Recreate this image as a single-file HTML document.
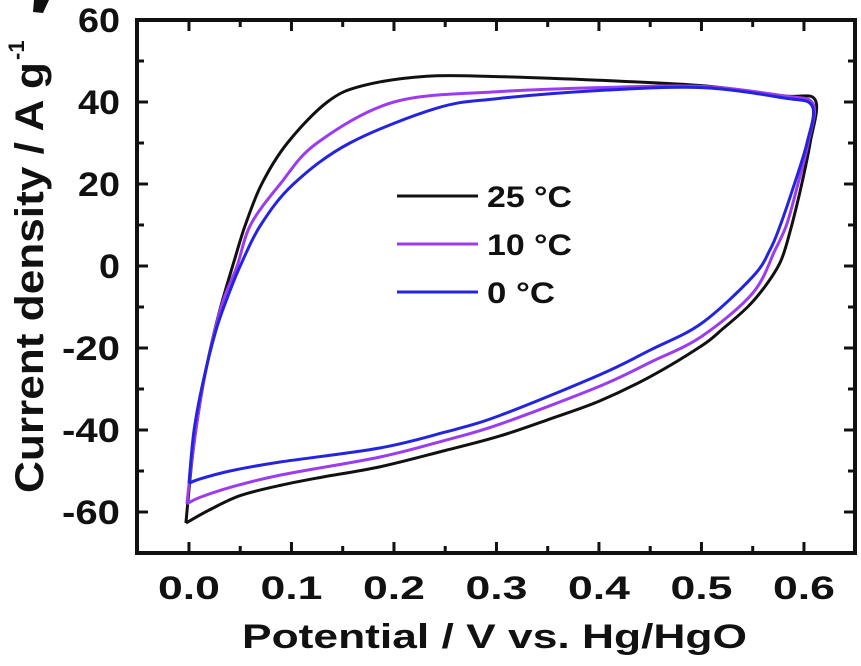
<!DOCTYPE html>
<html><head><meta charset="utf-8"><style>
body{margin:0;background:#fff;}
svg text{font-family:"Liberation Sans",Arial,sans-serif;font-weight:bold;fill:#111;}
</style></head><body>
<svg id="chart" width="861" height="661" viewBox="0 0 861 661" xmlns="http://www.w3.org/2000/svg">
<path d="M34 0 L49 0 L43 13 L33 12 Z" fill="#111"/>
<g id="plot"></g>
</svg>
<script>
const xTicks=[0.0,0.1,0.2,0.3,0.4,0.5,0.6];
const xTickLabels=["0.0","0.1","0.2","0.3","0.4","0.5","0.6"];
const yTicks=[60,40,20,0,-20,-40,-60];
const yTickLabels=["60","40","20","0","-20","-40","-60"];
const seriesNames=["25 °C","10 °C","0 °C"];
const seriesColors=["#111111","#9b3cf0","#2424e0"];
const s25x=[-0.003,0.004,0.013,0.022,0.032,0.045,0.055,0.071,0.096,0.135,0.17,0.232,0.3,0.4,0.5,0.58,0.611,0.606,0.596,0.586,0.577,0.562,0.545,0.52,0.5,0.45,0.4,0.35,0.303,0.25,0.186,0.13,0.089,0.05,0.02,-0.003];
const s25y=[-62.7,-45,-30,-19,-9,2,10,20,30,40,44,46.3,46.2,45.3,44,41.5,40.5,30,18,8,1,-5,-10,-15.5,-19.5,-27,-33,-37.5,-41.5,-45,-49,-51.5,-53.5,-56,-59.5,-62.7];
const s10x=[-0.002,0.004,0.013,0.024,0.034,0.047,0.06,0.089,0.125,0.2,0.3,0.4,0.5,0.58,0.609,0.604,0.592,0.583,0.572,0.55,0.5,0.45,0.4,0.303,0.25,0.186,0.089,0.04,0.01,-0.002];
const s10y=[-58,-45,-30,-17,-8,0,10,20,30,40,42.5,43.5,43.8,41.5,39.5,30,18,10,4,-6.6,-17.2,-23.5,-29.4,-38.6,-42.5,-46.6,-51,-54,-56.5,-58];
const s0x=[0,0.005,0.014,0.026,0.037,0.05,0.07,0.102,0.157,0.242,0.3,0.4,0.5,0.58,0.608,0.603,0.588,0.577,0.567,0.55,0.5,0.45,0.4,0.303,0.25,0.186,0.089,0.04,0.01,0];
const s0y=[-53,-40,-28,-16,-8,0,10,20,30,38.5,40.8,42.8,43.5,41,39,30,18,10,4,-2.6,-14,-20.5,-26.6,-36.5,-40.5,-44.4,-47.8,-50,-52,-53];
const seriesX=[s25x,s10x,s0x], seriesY=[s25y,s10y,s0y];

const L=137,R=855,T=20,B=553, xmin=-0.0507,xmax=0.6498,ymin=-70,ymax=60;
const sx=v=>L+(v-xmin)/(xmax-xmin)*(R-L);
const sy=v=>B-(v-ymin)/(ymax-ymin)*(B-T);
const NS="http://www.w3.org/2000/svg";
const g=document.getElementById('plot');
function mk(t,a){const e=document.createElementNS(NS,t);for(const k in a)e.setAttribute(k,a[k]);g.appendChild(e);return e;}
function spline(px,py){let d=`M${px[0]},${py[0]}`;for(let i=0;i<px.length-1;i++){const p0=i?i-1:i,p3=i+2<px.length?i+2:i+1;
const c1x=px[i]+(px[i+1]-px[p0])/6,c1y=py[i]+(py[i+1]-py[p0])/6,c2x=px[i+1]-(px[p3]-px[i])/6,c2y=py[i+1]-(py[p3]-py[i])/6;
d+=` C${c1x.toFixed(1)},${c1y.toFixed(1)} ${c2x.toFixed(1)},${c2y.toFixed(1)} ${px[i+1].toFixed(1)},${py[i+1].toFixed(1)}`;}return d;}
for(let s=0;s<3;s++){
 const p=mk('path',{d:spline(seriesX[s].map(sx),seriesY[s].map(sy)),fill:'none',stroke:seriesColors[s],'stroke-width':3,'stroke-linejoin':'round'});
 
 
}
const fr=mk('rect',{x:L,y:T,width:R-L,height:B-T,fill:'none',stroke:'#111','stroke-width':4});


for(let k=0;k<=12;k++){const v=k*0.05,x=sx(v),len=(k%2===0)?11:7;
 const t1=mk('line',{x1:x,y1:B,x2:x,y2:B-len,stroke:'#111','stroke-width':3});
 
 
 const t2=mk('line',{x1:x,y1:T,x2:x,y2:T+len,stroke:'#111','stroke-width':3});
 
 }
for(let v=-60;v<=60;v+=10){const y=sy(v),len=(v%20===0)?11:7;
 const t1=mk('line',{x1:L,y1:y,x2:L+len,y2:y,stroke:'#111','stroke-width':3});
 
 
 const t2=mk('line',{x1:R,y1:y,x2:R-len,y2:y,stroke:'#111','stroke-width':3});
 
 }
xTicks.forEach((v,i)=>{const t=mk('text',{x:sx(v)-31,y:599,'font-size':32,textLength:62,lengthAdjust:'spacingAndGlyphs'});t.textContent=xTickLabels[i];
 
 });
yTicks.forEach((v,i)=>{const w=yTickLabels[i].length===3?58:(yTickLabels[i].length===2?42:21);
 const t=mk('text',{x:120-w,y:sy(v)+12,'font-size':34,textLength:w,lengthAdjust:'spacingAndGlyphs'});t.textContent=yTickLabels[i];
 
 });
const xt=mk('text',{x:242,y:648,'font-size':34,textLength:505,lengthAdjust:'spacingAndGlyphs'});xt.textContent='Potential / V vs. Hg/HgO';


const yg=mk('g',{transform:'translate(43,493) rotate(-90)'});


const yt=document.createElementNS(NS,'text');
yt.setAttribute('x',0);yt.setAttribute('y',0);yt.setAttribute('font-size',40);
yt.setAttribute('textLength',431);yt.setAttribute('lengthAdjust','spacingAndGlyphs');
yt.textContent='Current density / A g';


yg.appendChild(yt);
const ys=document.createElementNS(NS,'text');
ys.setAttribute('x',433);ys.setAttribute('y',-19);ys.setAttribute('font-size',22);
ys.textContent='-1';


yg.appendChild(ys);
const ly=[196,244,292], lw=[85,85,68];
for(let s=0;s<3;s++){
 const l=mk('line',{x1:397,y1:ly[s],x2:478,y2:ly[s],stroke:seriesColors[s],'stroke-width':3});
 
 
 const t=mk('text',{x:487,y:ly[s]+11,'font-size':30,textLength:lw[s],lengthAdjust:'spacingAndGlyphs'});t.textContent=seriesNames[s];
 
 
}
</script>
</body></html>
